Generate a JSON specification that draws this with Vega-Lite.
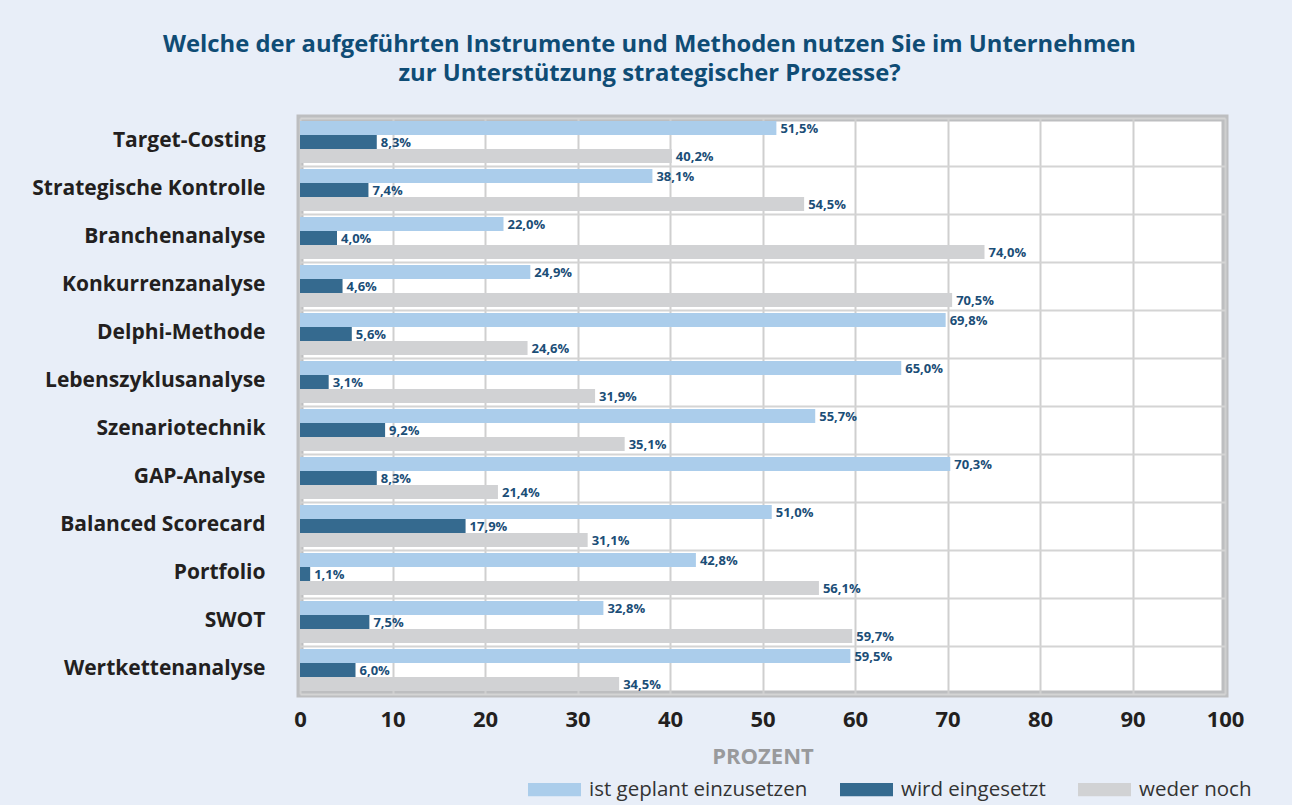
{
  "$schema": "https://vega.github.io/schema/vega-lite/v6.json",
  "autosize": {"type": "none"},
  "padding": {"left": 300, "top": 118, "right": 67, "bottom": 111},
  "width": 925,
  "height": 576,
  "background": "#e8eef8",
  "title": {
    "text": ["Welche der aufgeführten Instrumente und Methoden nutzen Sie im Unternehmen", "zur Unterstützung strategischer Prozesse?"],
    "anchor": "middle",
    "frame": "group",
    "dx": -113,
    "offset": 21,
    "font": "Open Sans",
    "fontSize": 23.8,
    "fontWeight": "bold",
    "color": "#0f4c75",
    "lineHeight": 29
  },
  "data": {
    "values": [
      {"method": "Target-Costing", "series": "ist geplant einzusetzen", "value": 51.5},
      {"method": "Target-Costing", "series": "wird eingesetzt", "value": 8.3},
      {"method": "Target-Costing", "series": "weder noch", "value": 40.2},
      {"method": "Strategische Kontrolle", "series": "ist geplant einzusetzen", "value": 38.1},
      {"method": "Strategische Kontrolle", "series": "wird eingesetzt", "value": 7.4},
      {"method": "Strategische Kontrolle", "series": "weder noch", "value": 54.5},
      {"method": "Branchenanalyse", "series": "ist geplant einzusetzen", "value": 22.0},
      {"method": "Branchenanalyse", "series": "wird eingesetzt", "value": 4.0},
      {"method": "Branchenanalyse", "series": "weder noch", "value": 74.0},
      {"method": "Konkurrenzanalyse", "series": "ist geplant einzusetzen", "value": 24.9},
      {"method": "Konkurrenzanalyse", "series": "wird eingesetzt", "value": 4.6},
      {"method": "Konkurrenzanalyse", "series": "weder noch", "value": 70.5},
      {"method": "Delphi-Methode", "series": "ist geplant einzusetzen", "value": 69.8},
      {"method": "Delphi-Methode", "series": "wird eingesetzt", "value": 5.6},
      {"method": "Delphi-Methode", "series": "weder noch", "value": 24.6},
      {"method": "Lebenszyklusanalyse", "series": "ist geplant einzusetzen", "value": 65.0},
      {"method": "Lebenszyklusanalyse", "series": "wird eingesetzt", "value": 3.1},
      {"method": "Lebenszyklusanalyse", "series": "weder noch", "value": 31.9},
      {"method": "Szenariotechnik", "series": "ist geplant einzusetzen", "value": 55.7},
      {"method": "Szenariotechnik", "series": "wird eingesetzt", "value": 9.2},
      {"method": "Szenariotechnik", "series": "weder noch", "value": 35.1},
      {"method": "GAP-Analyse", "series": "ist geplant einzusetzen", "value": 70.3},
      {"method": "GAP-Analyse", "series": "wird eingesetzt", "value": 8.3},
      {"method": "GAP-Analyse", "series": "weder noch", "value": 21.4},
      {"method": "Balanced Scorecard", "series": "ist geplant einzusetzen", "value": 51.0},
      {"method": "Balanced Scorecard", "series": "wird eingesetzt", "value": 17.9},
      {"method": "Balanced Scorecard", "series": "weder noch", "value": 31.1},
      {"method": "Portfolio", "series": "ist geplant einzusetzen", "value": 42.8},
      {"method": "Portfolio", "series": "wird eingesetzt", "value": 1.1},
      {"method": "Portfolio", "series": "weder noch", "value": 56.1},
      {"method": "SWOT", "series": "ist geplant einzusetzen", "value": 32.8},
      {"method": "SWOT", "series": "wird eingesetzt", "value": 7.5},
      {"method": "SWOT", "series": "weder noch", "value": 59.7},
      {"method": "Wertkettenanalyse", "series": "ist geplant einzusetzen", "value": 59.5},
      {"method": "Wertkettenanalyse", "series": "wird eingesetzt", "value": 6.0},
      {"method": "Wertkettenanalyse", "series": "weder noch", "value": 34.5}
    ]
  },
  "encoding": {
    "y": {
      "field": "method",
      "type": "nominal",
      "sort": null,
      "scale": {"paddingInner": 0, "paddingOuter": 0},
      "axis": {
        "title": null,
        "tickBand": "extent",
        "grid": true,
        "gridColor": "#d4d4d4",
        "gridWidth": 2,
        "domain": false,
        "ticks": false,
        "labelFont": "Open Sans",
        "labelFontSize": 21,
        "labelFontWeight": "bold",
        "labelColor": "#231f20",
        "labelPadding": 35,
        "labelOffset": -2,
        "labelLimit": 400
      }
    },
    "yOffset": {
      "field": "series",
      "type": "nominal",
      "sort": ["ist geplant einzusetzen", "wird eingesetzt", "weder noch"],
      "scale": {"paddingInner": 0, "paddingOuter": 0.22}
    },
    "x": {
      "field": "value",
      "type": "quantitative",
      "scale": {"domain": [0, 100], "nice": false},
      "axis": {
        "title": "PROZENT",
        "values": [0, 10, 20, 30, 40, 50, 60, 70, 80, 90, 100],
        "grid": true,
        "gridColor": "#cfcfcf",
        "gridWidth": 2,
        "domain": false,
        "ticks": false,
        "labelFlush": false,
        "labelFont": "Open Sans",
        "labelFontSize": 22,
        "labelFontWeight": "bold",
        "labelColor": "#231f20",
        "labelPadding": 15,
        "titleFont": "Open Sans",
        "titleFontSize": 22,
        "titleFontWeight": "bold",
        "titleColor": "#999a9c",
        "titlePadding": 16
      }
    }
  },
  "layer": [
    {
      "mark": {"type": "bar"},
      "encoding": {
        "color": {
          "field": "series",
          "type": "nominal",
          "sort": ["ist geplant einzusetzen", "wird eingesetzt", "weder noch"],
          "scale": {
            "domain": ["ist geplant einzusetzen", "wird eingesetzt", "weder noch"],
            "range": ["#abcdeb", "#356a8f", "#d1d2d4"]
          },
          "legend": {
            "title": null,
            "orient": "none",
            "direction": "horizontal",
            "columns": 3,
            "legendX": 228,
            "legendY": 645,
            "padding": 0,
            "symbolType": "M-1,-0.25H1V0.25H-1Z",
            "symbolSize": 2809,
            "symbolStrokeWidth": 0,
            "symbolOpacity": 1,
            "labelFont": "Open Sans",
            "labelFontSize": 20.5,
            "labelColor": "#333333",
            "labelOffset": 8,
            "labelLimit": 400,
            "columnPadding": 32
          }
        }
      }
    },
    {
      "mark": {
        "type": "text",
        "align": "left",
        "baseline": "middle",
        "dx": 4,
        "dy": 1,
        "font": "Open Sans",
        "fontSize": 13,
        "fontWeight": "bold",
        "color": "#1b4e77"
      },
      "encoding": {
        "text": {"field": "value", "type": "quantitative", "format": "$.1f"}
      }
    }
  ],
  "config": {
    "locale": {
      "number": {
        "decimal": ",",
        "thousands": ".",
        "grouping": [3],
        "currency": ["", "%"]
      }
    },
    "view": {"fill": "#ffffff", "stroke": "#bdbec0", "strokeWidth": 7}
  }
}
